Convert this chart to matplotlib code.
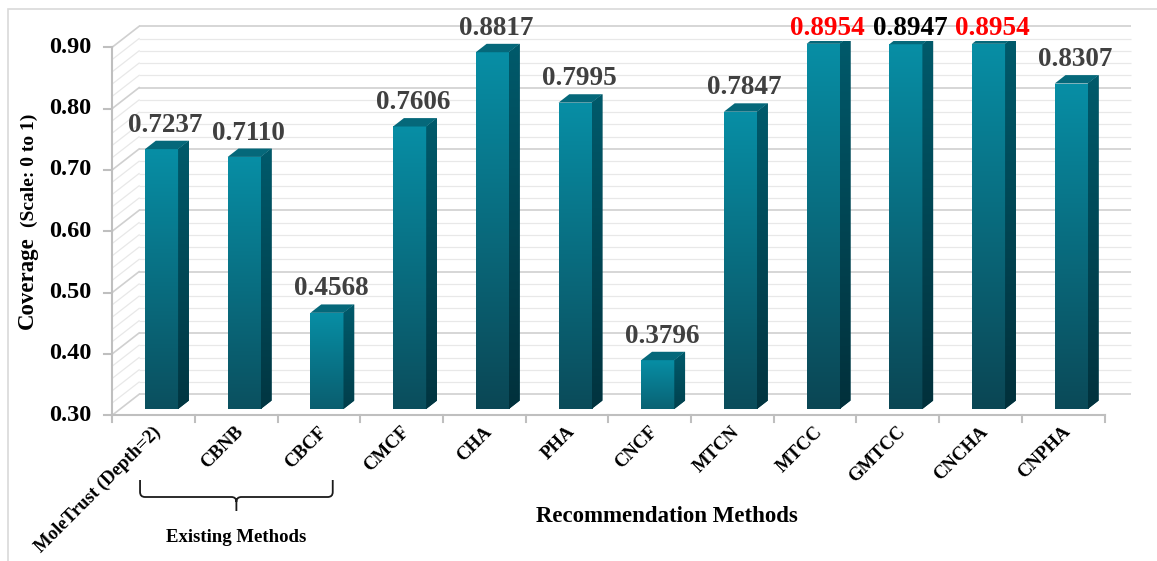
import numpy as np
import matplotlib
matplotlib.use("Agg")
import matplotlib.pyplot as plt
from matplotlib.patches import Polygon, Rectangle, PathPatch
from matplotlib.path import Path
from matplotlib.colors import to_rgb

# ---------------- data ----------------
methods = ["MoleTrust (Depth=2)", "CBNB", "CBCF", "CMCF", "CHA", "PHA",
           "CNCF", "MTCN", "MTCC", "GMTCC", "CNCHA", "CNPHA"]
coverage = [0.7237, 0.7110, 0.4568, 0.7606, 0.8817, 0.7995,
            0.3796, 0.7847, 0.8954, 0.8947, 0.8954, 0.8307]
value_labels = ["0.7237", "0.7110", "0.4568", "0.7606", "0.8817", "0.7995",
                "0.3796", "0.7847", "0.8954", "0.8947", "0.8954", "0.8307"]
label_colors = ["#404040"] * 8 + ["#ff0000", "#000000", "#ff0000", "#404040"]
yticks = [0.30, 0.40, 0.50, 0.60, 0.70, 0.80, 0.90]
ytick_labels = ["0.30", "0.40", "0.50", "0.60", "0.70", "0.80", "0.90"]
existing_group = [0, 2]          # first and last index of "Existing Methods"
xlabel = "Recommendation Methods"
ylabel_main = "Coverage"
ylabel_sub = "(Scale: 0 to 1)"
group_label = "Existing Methods"

# ---------------- figure ----------------
W, H = 1157, 561
SERIF = ["Liberation Serif", "DejaVu Serif"]
plt.rcParams["font.family"] = SERIF

fig = plt.figure(figsize=(W / 100, H / 100), dpi=100)
fig.patch.set_facecolor("white")
ymin, ymax = 0.30, 0.90
n = len(methods)
ax = fig.add_axes([120.2 / W, (H - 409) / H, 992.4 / W, 368 / H])
ax.set_xlim(-0.5, n - 0.5)
ax.set_ylim(ymin, ymax)
ax.axis("off")

# pixels -> data units
ux = (n) / ax.bbox.width
uy = (ymax - ymin) / ax.bbox.height

# depth offsets (pixels) relative to the bar plane
fxp, fyp = -8.1, -6.3     # front plane
bxp, byp = 18.9, 14.7     # back plane
dxp, dyp = 10.8, 8.4      # bar depth
fx, fy = fxp * ux, fyp * uy
bx, by = bxp * ux, byp * uy
dx, dy = dxp * ux, dyp * uy

L, R = -0.5, n - 0.5

# gridlines on back wall and left wall
grid_vals = np.round(np.arange(ymin, ymax + 1e-9, 0.02), 2)
for g in grid_vals:
    major = abs(round(g * 10) - g * 10) < 1e-6
    col = "#d0d0d0" if major else "#e8e8e8"
    lw = 1.2 if major else 0.9
    ax.plot([L + bx, R + bx], [g + by, g + by], color=col, lw=lw,
            zorder=0, clip_on=False, solid_capstyle="butt")
    ax.plot([L + fx, L + bx], [g + fy, g + by], color=col, lw=lw,
            zorder=0, clip_on=False)

# front axes lines
axis_col = "#bfbfbf"
ax.plot([L + fx, R + fx], [ymin + fy, ymin + fy], color=axis_col, lw=1.5,
        zorder=1, clip_on=False)
ax.plot([L + fx, L + fx], [ymin + fy, ymax + fy], color=axis_col, lw=1.5,
        zorder=1, clip_on=False)
for k in range(n + 1):
    xx = L + k + fx
    ax.plot([xx, xx], [ymin + fy, ymin + fy - 7 * uy], color=axis_col,
            lw=1.5, zorder=1, clip_on=False)
for t, lab in zip(yticks, ytick_labels):
    ax.plot([L + fx - 8 * ux, L + fx], [t + fy, t + fy], color=axis_col,
            lw=1.5, zorder=1, clip_on=False)
    ax.text(L + fx - 21 * ux, t + fy, lab, ha="right", va="center",
            fontsize=17.5, fontweight="bold", color="black", clip_on=False)

# ---------------- bars ----------------
def grad(c0, c1, m=64):
    a, b = np.array(to_rgb(c0)), np.array(to_rgb(c1))
    t = np.linspace(0, 1, m)[:, None]
    return (b * (1 - t) + a * t)[:, None, :]   # row 0 = bottom colour

bw = 0.4
x = np.arange(n)
bars = ax.bar(x, np.array(coverage) - ymin, bottom=ymin, width=bw,
              color="#007a8f", zorder=2, linewidth=0)
front_top = np.array(to_rgb("#078ea5"))
front_bot = np.array(to_rgb("#0b4654"))
side_top = np.array(to_rgb("#005a6b"))
side_bot = np.array(to_rgb("#02303b"))
for i, (b, v) in enumerate(zip(bars, coverage)):
    frac = 0.55 + 0.45 * (v - ymin) / (ymax - ymin)
    fb = front_top * (1 - frac) + front_bot * frac
    sb = side_top * (1 - frac) + side_bot * frac
    im = ax.imshow(grad(front_top, fb), extent=(i - bw / 2, i + bw / 2, ymin, v),
                   origin="lower", aspect="auto", zorder=2.1,
                   interpolation="bilinear")
    im.set_clip_path(b)
    side = Polygon([(i + bw / 2, ymin), (i + bw / 2 + dx, ymin + dy),
                    (i + bw / 2 + dx, v + dy), (i + bw / 2, v)],
                   closed=True, facecolor="#004a58", edgecolor="none",
                   zorder=2)
    ax.add_patch(side)
    im2 = ax.imshow(grad(side_top, sb),
                    extent=(i + bw / 2, i + bw / 2 + dx, ymin, v + dy),
                    origin="lower", aspect="auto", zorder=2.1,
                    interpolation="bilinear")
    im2.set_clip_path(side)
    top = Polygon([(i - bw / 2, v), (i + bw / 2, v), (i + bw / 2 + dx, v + dy),
                   (i - bw / 2 + dx, v + dy)], closed=True,
                  facecolor="#05687a", edgecolor="none", zorder=2.2)
    ax.add_patch(top)
    # value label
    ly = min(v + dy + 9 * uy, ymax + 6 * uy)
    ax.text(i + 4 * ux, ly, value_labels[i], ha="center", va="baseline",
            fontsize=19.5, fontweight="bold", color=label_colors[i],
            zorder=5, clip_on=False)
    # category label
    ax.text(i + fx + 5 * ux, ymin + fy - 14 * uy, methods[i], rotation=45,
            rotation_mode="anchor", ha="right", va="center", fontsize=13.5,
            fontweight="bold", color="black", clip_on=False)

ax.set_xlim(L, R)
ax.set_ylim(ymin, ymax)

# ---------------- bracket for existing methods ----------------
bl = existing_group[0] - 0.26
br = existing_group[1] + 0.07
bm = (bl + br) / 2
def yp(py):  # figure pixel row -> data y
    return ymin + (409 - py) * uy
r = 5 * ux
verts = [(bl, yp(480)), (bl, yp(492)), (bl, yp(497)), (bl + r, yp(497)),
         (bm - r, yp(497)), (bm, yp(497)), (bm, yp(502)), (bm, yp(511)),
         (bm, yp(502)), (bm, yp(497)), (bm + r, yp(497)),
         (br - r, yp(497)), (br, yp(497)), (br, yp(492)), (br, yp(480))]
codes = [Path.MOVETO, Path.LINETO, Path.CURVE3, Path.CURVE3,
         Path.LINETO, Path.CURVE3, Path.CURVE3, Path.LINETO,
         Path.MOVETO, Path.CURVE3, Path.CURVE3,
         Path.LINETO, Path.CURVE3, Path.CURVE3, Path.LINETO]
ax.add_patch(PathPatch(Path(verts, codes), facecolor="none",
                       edgecolor="#1a1a1a", lw=1.3, clip_on=False))
ax.text(bm, yp(538), group_label, ha="center", va="center", fontsize=13.5,
        fontweight="bold", color="black", clip_on=False)

# ---------------- axis titles ----------------
fig.text(667 / W, 1 - 516 / H, xlabel, ha="center", va="center",
         fontsize=16.5, fontweight="bold", color="black")
fig.text(27 / W, 1 - 283 / H, ylabel_main, ha="center", va="center",
         rotation=90, fontsize=16.5, fontweight="bold", color="black")
fig.text(29 / W, 1 - 170 / H, ylabel_sub, ha="center", va="center",
         rotation=90, fontsize=14, fontweight="bold", color="black")

# outer border
fig.patches.append(Rectangle((8 / W, -0.05), 1.1, 1 - 9 / H + 0.05,
                             transform=fig.transFigure, fill=False,
                             edgecolor="#d9d9d9", lw=1.2))

fig.savefig("out.png", dpi=100)
